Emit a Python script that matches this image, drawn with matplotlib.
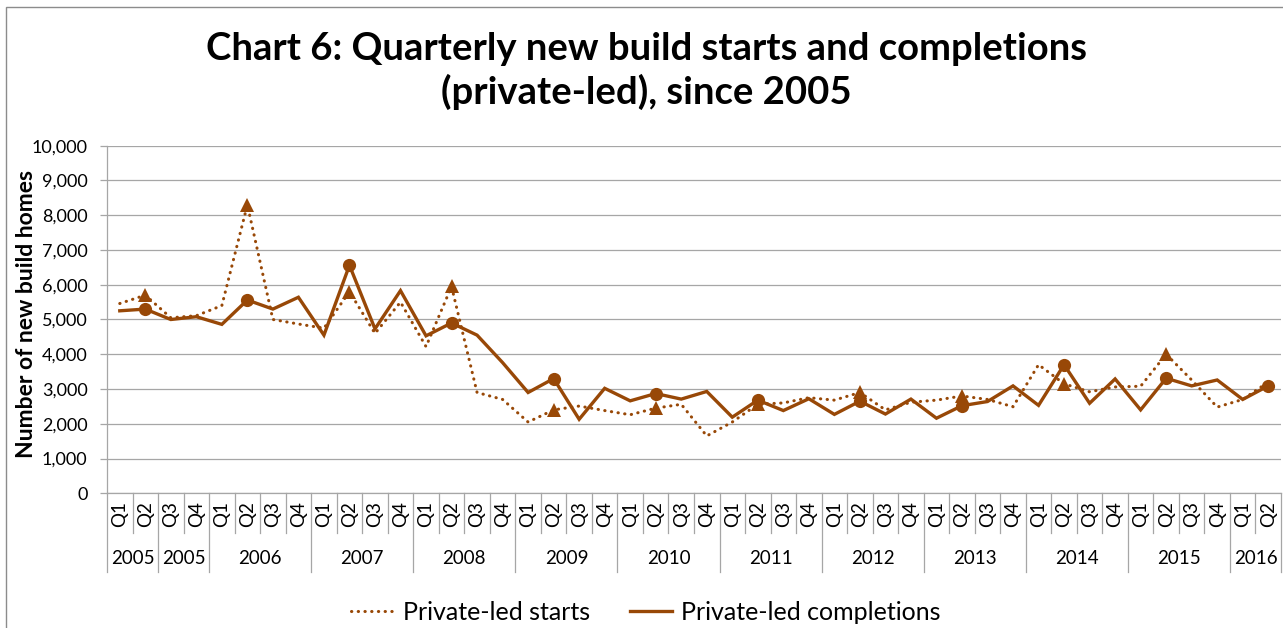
import matplotlib
matplotlib.use("Agg")
import matplotlib.pyplot as plt
from matplotlib.lines import Line2D
from matplotlib.patches import Rectangle

plt.rcParams['font.family'] = ['Lato', 'DejaVu Sans']

quarters = ["Q1", "Q2", "Q3", "Q4"] + ["Q1", "Q2", "Q3", "Q4"] * 10 + ["Q1", "Q2"]
year_groups = ["2005", "2005", "2006", "2007", "2008", "2009", "2010",
               "2011", "2012", "2013", "2014", "2015", "2016"]
group_sizes = [2, 2, 4, 4, 4, 4, 4, 4, 4, 4, 4, 4, 2]

starts = [5460, 5700, 5050, 5110, 5400, 8300, 5000, 4870, 4750, 5800,
          4600, 5500, 4220, 5950, 2900, 2700, 2050, 2400, 2510, 2380,
          2260, 2450, 2560, 1650, 2050, 2560, 2600, 2750, 2680, 2900,
          2400, 2620, 2680, 2800, 2700, 2490, 3700, 3150, 2920, 3060,
          3080, 4000, 3260, 2480, 2700, 3200]
completions = [5250, 5300, 5000, 5080, 4860, 5560, 5300, 5640, 4550, 6560,
               4730, 5830, 4530, 4900, 4550, 3760, 2900, 3300, 2130, 3020,
               2660, 2870, 2710, 2930, 2190, 2680, 2380, 2720, 2270, 2650,
               2280, 2710, 2160, 2520, 2640, 3090, 2530, 3700, 2590, 3290,
               2400, 3310, 3090, 3260, 2700, 3090]

y_ticks = list(range(0, 10001, 1000))
title_lines = ["Chart 6: Quarterly new build starts and completions",
               "(private-led), since 2005"]
y_label = "Number of new build homes"
legend_labels = ["Private-led starts", "Private-led completions"]

color = "#984807"
grid_c = "#A6A6A6"
W, H = 1283, 628

fig = plt.figure(figsize=(W / 100, H / 100), dpi=100)
# outer chart border (left/top visible)
fig.add_artist(Rectangle((6 / W, -0.05), 1.2, (H - 7) / H + 0.05, transform=fig.transFigure,
                         fill=False, edgecolor="#8C8C8C", lw=1.0))

ax_l, ax_r, ax_t, ax_b = 107, 1281, 145.7, 493.3
ax = fig.add_axes([ax_l / W, 1 - ax_b / H, (ax_r - ax_l) / W, (ax_b - ax_t) / H])

n = len(starts)
x = [i + 0.5 for i in range(n)]
q2_idx = [i for i, q in enumerate(quarters) if q == "Q2"]
q2_idx_starts = q2_idx[:-1]

ax.plot(x, starts, color=color, lw=2.2, linestyle=(0, (0.1, 2.1)),
        dash_capstyle="round", marker="^", markevery=q2_idx_starts, markersize=9.5,
        markeredgewidth=0, zorder=3)
ax.plot(x, completions, color=color, lw=2.4, solid_joinstyle="miter",
        marker="o", markevery=q2_idx, markersize=9.5, markeredgewidth=0, zorder=4)

ax.set_xlim(0, n)
ax.set_ylim(0, 10000)
ax.set_yticks(y_ticks)
ax.set_yticklabels([f"{v:,}" for v in y_ticks], fontsize=13, color="#000000")
ax.tick_params(axis="y", direction="out", length=5, width=0.9, color=grid_c, pad=9)
ax.set_xticks([])
ax.yaxis.grid(True, color=grid_c, lw=0.9)
ax.set_axisbelow(True)
for s in ["top", "right"]:
    ax.spines[s].set_visible(False)
for s in ["left", "bottom"]:
    ax.spines[s].set_color(grid_c)
    ax.spines[s].set_linewidth(0.9)

hpx = ax_b - ax_t


def ay(py):
    return -(py - ax_b) / hpx


trans = ax.get_xaxis_transform()
y_q_line = ay(533)
y_g_line = ay(572)
for i, q in enumerate(quarters):
    ax.text(i + 0.5, ay(514), q, rotation=90, ha="center", va="center",
            fontsize=13.5, transform=trans, clip_on=False)
pos = 0
bounds = [0]
for g, sz in zip(year_groups, group_sizes):
    ax.text(pos + sz / 2, ay(559), g, ha="center", va="center", fontsize=13.5,
            transform=trans, clip_on=False)
    pos += sz
    bounds.append(pos)
for b in range(n + 1):
    low = y_g_line if b in bounds else y_q_line
    ax.add_line(Line2D([b, b], [0, low], transform=trans, color=grid_c,
                       lw=0.9, clip_on=False))

fig.text(646 / W, 1 - 60 / H, title_lines[0], ha="center", va="baseline",
         fontsize=27.5, fontweight="bold")
fig.text(646 / W, 1 - 104 / H, title_lines[1], ha="center", va="baseline",
         fontsize=27.5, fontweight="bold")
fig.text(27 / W, 1 - 314 / H, y_label, rotation=90, ha="center", va="center",
         fontsize=16.5, fontweight="bold")

handles = [Line2D([], [], color=color, lw=2.2, linestyle=(0, (0.1, 2.1)),
                  dash_capstyle="round"),
           Line2D([], [], color=color, lw=2.4)]
fig.legend(handles, legend_labels, loc="center", bbox_to_anchor=(646 / W, 1 - 612 / H),
           ncol=2, frameon=False, fontsize=18, handlelength=1.7, handletextpad=0.35,
           columnspacing=1.6)

fig.savefig("out.png", dpi=100)
